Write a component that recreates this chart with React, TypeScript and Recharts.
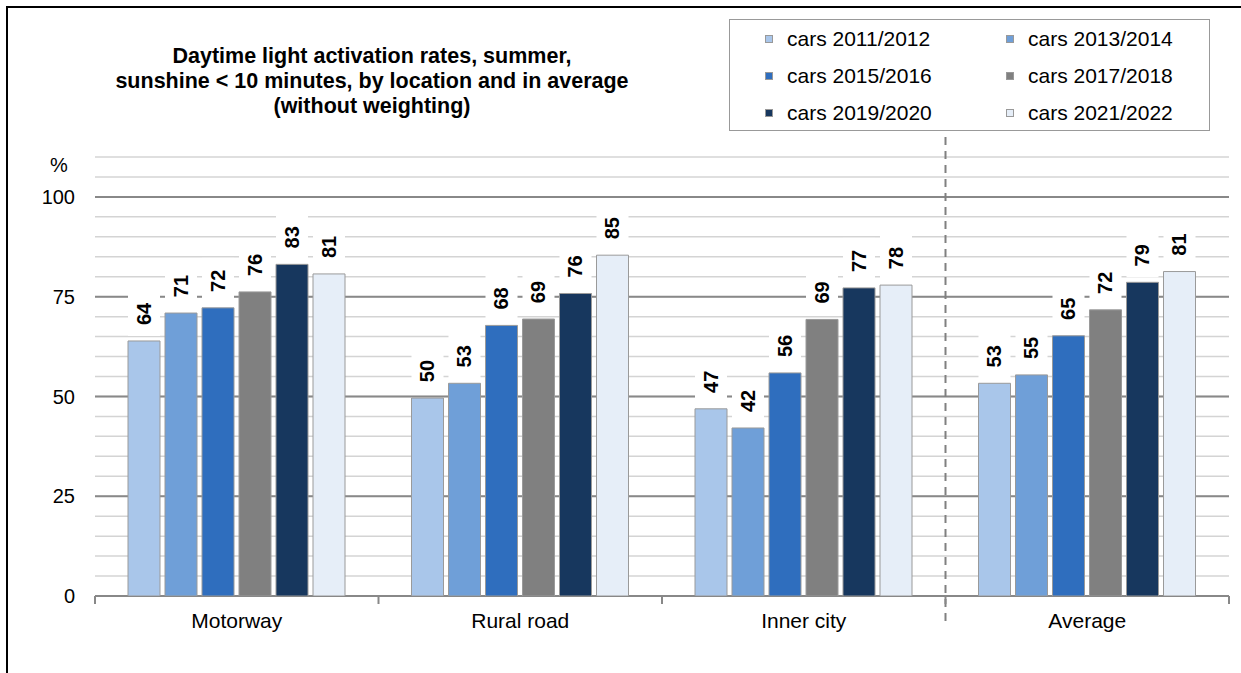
import { BarChart, Bar, XAxis, YAxis, CartesianGrid, LabelList, ReferenceLine } from "recharts";

const categories = ["Motorway", "Rural road", "Inner city", "Average"];

const cars2011 = [63.9, 49.6, 46.9, 53.3];
const cars2013 = [70.9, 53.3, 42.1, 55.4];
const cars2015 = [72.2, 67.8, 55.9, 65.2];
const cars2017 = [76.2, 69.4, 69.3, 71.7];
const cars2019 = [83.1, 75.8, 77.2, 78.6];
const cars2021 = [80.7, 85.4, 77.9, 81.3];

const seriesNames = [
  "cars 2011/2012",
  "cars 2013/2014",
  "cars 2015/2016",
  "cars 2017/2018",
  "cars 2019/2020",
  "cars 2021/2022",
];
const seriesColors = ["#a9c6ea", "#6f9fd8", "#2f6ebe", "#808080", "#17375e", "#e6eef8"];

const majorTicks = [0, 25, 50, 75, 100];
const minorTicks = [0, 5, 10, 15, 20, 25, 30, 35, 40, 45, 50, 55, 60, 65, 70, 75, 80, 85, 90, 95, 100, 105, 110];
const boundaryTicks = [0, 1, 2, 3, 4];

const FONT = '"Liberation Sans", Arial, sans-serif';

const allSeries = [cars2011, cars2013, cars2015, cars2017, cars2019, cars2021];
const keys = ["s0", "s1", "s2", "s3", "s4", "s5"];

const data = categories.map((name, i) => {
  const row: Record<string, string | number> = { name };
  allSeries.forEach((s, j) => {
    row[keys[j]] = s[i];
  });
  return row;
});

function BoxedLabel(props: any) {
  const { x, y, width, value } = props;
  const cx = Number(x) + Number(width) / 2;
  const ty = Number(y) - 27;
  return (
    <g>
      <rect x={x} y={Number(y) - 50} width={width} height={45} fill="#ffffff" />
      <text
        x={cx}
        y={ty}
        transform={`rotate(-90 ${cx} ${ty})`}
        textAnchor="middle"
        dominantBaseline="central"
        fontWeight="bold"
        fontSize={20}
        fontFamily={FONT}
        fill="#000"
      >
        {Math.round(Number(value))}
      </text>
    </g>
  );
}

function EmptyTick() {
  return <g />;
}

export default function App() {
  return (
    <div
      style={{
        position: "absolute",
        left: 0,
        top: 0,
        width: 1241,
        height: 673,
        overflow: "hidden",
        background: "#fff",
        fontFamily: FONT,
      }}
    >
      <div
        style={{
          position: "absolute",
          left: 6,
          top: 6,
          width: 1300,
          height: 800,
          border: "2px solid #000",
        }}
      />
      <div
        style={{
          position: "absolute",
          left: 72,
          top: 44,
          width: 600,
          textAlign: "center",
          fontWeight: "bold",
          fontSize: 21.5,
          lineHeight: "25px",
          color: "#000",
        }}
      >
        Daytime light activation rates, summer,
        <br />
        sunshine &lt; 10 minutes, by location and in average
        <br />
        (without weighting)
      </div>
      <div
        style={{
          position: "absolute",
          left: 729,
          top: 19,
          width: 479,
          height: 110,
          border: "1px solid #999",
          background: "#fff",
          zIndex: 2,
        }}
      >
        {seriesNames.map((n, i) => (
          <div
            key={n}
            style={{
              position: "absolute",
              left: i % 2 === 0 ? 35 : 276,
              top: Math.floor(i / 2) * 37,
              height: 37,
              display: "flex",
              alignItems: "center",
              fontSize: 21,
              color: "#000",
              whiteSpace: "nowrap",
            }}
          >
            <span
              style={{
                display: "inline-block",
                width: 6,
                height: 6,
                background: seriesColors[i],
                border: "1px solid #999",
                marginRight: 14,
              }}
            />
            {n}
          </div>
        ))}
      </div>
      <div
        style={{
          position: "absolute",
          left: 50,
          top: 154,
          fontSize: 20,
          color: "#000",
        }}
      >
        %
      </div>
      <div style={{ position: "absolute", left: 0, top: 0 }}>
        <BarChart
          width={1241}
          height={673}
          data={data}
          margin={{ top: 157, right: 12, bottom: 37, left: 0 }}
          barSize={32}
          barGap={5}
        >
          <XAxis
            xAxisId="b"
            type="number"
            dataKey="none"
            domain={[0, 4]}
            ticks={boundaryTicks}
            interval={0}
            height={1}
            tick={<EmptyTick />}
            axisLine={false}
            tickSize={8}
            tickLine={{ stroke: "#888", strokeWidth: 2 }}
            allowDataOverflow
          />
          <XAxis
            xAxisId="cat"
            dataKey="name"
            height={39}
            tickLine={false}
            tickSize={0}
            tickMargin={16}
            axisLine={false}
            tick={{ fill: "#000", fontSize: 21, fontFamily: FONT }}
            interval={0}
          />
          <YAxis
            yAxisId="minor"
            domain={[0, 110]}
            ticks={minorTicks}
            interval={0}
            hide
            allowDataOverflow
          />
          <YAxis
            domain={[0, 110]}
            ticks={majorTicks}
            interval={0}
            width={95}
            axisLine={false}
            tickLine={false}
            tickSize={0}
            tickMargin={20}
            tick={{ fill: "#000", fontSize: 20, fontFamily: FONT }}
            allowDataOverflow
          />
          <CartesianGrid
            yAxisId="minor"
            xAxisId="cat"
            vertical={false}
            stroke="#d4d4d4"
            strokeWidth={1.5}
            syncWithTicks
          />
          <CartesianGrid xAxisId="cat" vertical={false} stroke="#888" strokeWidth={2} syncWithTicks />
          {keys.map((k, i) => (
            <Bar
              key={k}
              xAxisId="cat"
              dataKey={k}
              name={seriesNames[i]}
              fill={seriesColors[i]}
              stroke="#9a9a9a"
              strokeWidth={1}
              isAnimationActive={false}
            >
              <LabelList dataKey={k} content={<BoxedLabel />} />
            </Bar>
          ))}
          <ReferenceLine
            xAxisId="b"
            segment={[
              { x: 3, y: 115 },
              { x: 3, y: -7 },
            ]}
            stroke="#808080"
            strokeWidth={2}
            strokeDasharray="8 6"
            ifOverflow="visible"
          />
        </BarChart>
      </div>
    </div>
  );
}
